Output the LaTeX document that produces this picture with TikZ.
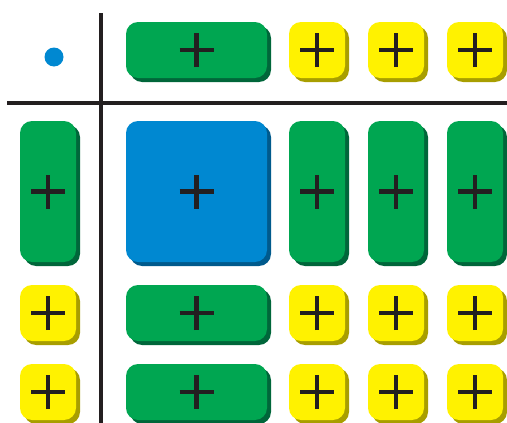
\documentclass[tikz,border=0pt]{standalone}
\usetikzlibrary{shadows}
\definecolor{gfill}{HTML}{00A651}
\definecolor{gshad}{HTML}{00663A}
\definecolor{bfill}{HTML}{0088D1}
\definecolor{bshad}{HTML}{005A8C}
\definecolor{yfill}{HTML}{FFF200}
\definecolor{yshad}{HTML}{A89E00}
\definecolor{ink}{HTML}{231F20}
\tikzset{
  cellbox/.style={rectangle, rounded corners=12pt, inner sep=0pt, outer sep=0pt, anchor=north west,
    minimum width=56pt, minimum height=56pt,
    path picture={
      \draw[line width=4.5pt, ink] ([xshift=-17pt]path picture bounding box.center) -- ([xshift=17pt]path picture bounding box.center);
      \draw[line width=4.5pt, ink] ([yshift=-17pt]path picture bounding box.center) -- ([yshift=17pt]path picture bounding box.center);
    }},
  gcell/.style={cellbox, fill=gfill, drop shadow={shadow xshift=4pt, shadow yshift=-4pt, fill=gshad, opacity=1}},
  bcell/.style={cellbox, fill=bfill, drop shadow={shadow xshift=4pt, shadow yshift=-4pt, fill=bshad, opacity=1}},
  ycell/.style={cellbox, fill=yfill, drop shadow={shadow xshift=4pt, shadow yshift=-4pt, fill=yshad, opacity=1}},
  wide/.style={minimum width=141pt},
  tall/.style={minimum height=141pt},
  rule/.style={ink, line width=4.5pt}
}
\begin{document}
\begin{tikzpicture}[x=1pt,y=-1pt]
\useasboundingbox (0,0) rectangle (507,423);
% dividers
\coordinate (vtop) at (101,13);
\coordinate (vbot) at (101,423);
\coordinate (hl) at (7,103);
\coordinate (hr) at (507,103);
\draw[rule] (vtop) -- (vbot);
\draw[rule] (hl) -- (hr);
% dot
\node[circle, fill=bfill, minimum size=19pt, inner sep=0pt] (dot) at (54,57) {};
% row 1
\node[gcell, wide] (r1c2) at (126,22) {};
\node[ycell] (r1c3) at (289,22) {};
\node[ycell] (r1c4) at (368,22) {};
\node[ycell] (r1c5) at (447,22) {};
% row 2
\node[gcell, tall] (r2c1) at (20,121) {};
\node[bcell, wide, tall] (r2c2) at (126,121) {};
\node[gcell, tall] (r2c3) at (289,121) {};
\node[gcell, tall] (r2c4) at (368,121) {};
\node[gcell, tall] (r2c5) at (447,121) {};
% row 3
\node[ycell] (r3c1) at (20,285) {};
\node[gcell, wide] (r3c2) at (126,285) {};
\node[ycell] (r3c3) at (289,285) {};
\node[ycell] (r3c4) at (368,285) {};
\node[ycell] (r3c5) at (447,285) {};
% row 4
\node[ycell] (r4c1) at (20,364) {};
\node[gcell, wide] (r4c2) at (126,364) {};
\node[ycell] (r4c3) at (289,364) {};
\node[ycell] (r4c4) at (368,364) {};
\node[ycell] (r4c5) at (447,364) {};
\end{tikzpicture}
\end{document}
